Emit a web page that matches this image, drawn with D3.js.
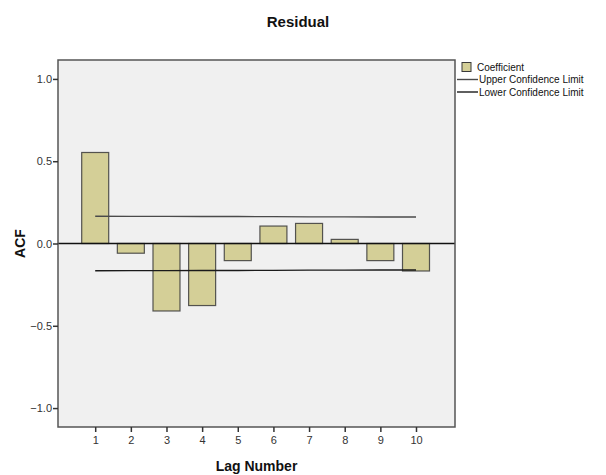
<!DOCTYPE html>
<html>
<head>
<meta charset="utf-8">
<script src="https://cdn.jsdelivr.net/npm/d3@7/dist/d3.min.js"></script>
<style>
  body { margin: 0; background: #fff; }
  svg { display: block; font-family: "Liberation Sans", Arial, sans-serif; }
</style>
</head>
<body>
<svg id="chart" width="606" height="475"></svg>
<script>
const lags = [1, 2, 3, 4, 5, 6, 7, 8, 9, 10];
const coefficients = [0.553, -0.059, -0.41, -0.377, -0.104, 0.106, 0.122, 0.025, -0.104, -0.167];
const upperLimit = [0.166, 0.165, 0.165, 0.164, 0.164, 0.163, 0.162, 0.162, 0.161, 0.161];
const lowerLimit = [-0.166, -0.165, -0.165, -0.164, -0.164, -0.163, -0.162, -0.162, -0.161, -0.161];
const yTicks = [1.0, 0.5, 0.0, -0.5, -1.0];
const legendItems = ['Coefficient', 'Upper Confidence Limit', 'Lower Confidence Limit'];

const plotLeft = 58;
const plotRight = 455;
const plotTop = 60;
const plotBottom = 427;
const barWidth = 27;
const tickLength = 5;
const barFill = '#d4cf97';

const svg = d3.select('#chart');

const x = d3.scaleLinear()
.domain([1, 10])
.range([95.2, 416]);

const y = d3.scaleLinear()
.domain([-1.115, 1.115])
.range([plotBottom, plotTop]);

// plot background
svg.append('rect')
.attr('x', plotLeft)
.attr('y', plotTop)
.attr('width', plotRight - plotLeft)
.attr('height', plotBottom - plotTop)
.attr('fill', '#f0f0f0');

// bars
svg.append('g')
.selectAll('rect')
.data(lags)
.join('rect')
.attr('x', (d) => x(d) - barWidth / 2)
.attr('y', (d, i) => y(Math.max(0, coefficients[i])))
.attr('width', barWidth)
.attr('height', (d, i) => Math.abs(y(coefficients[i]) - y(0)))
.attr('fill', barFill)
.attr('stroke', '#3a3a3a')
.attr('stroke-opacity', 0.85)
.attr('stroke-width', 1.2);

// confidence limits
const limitLine = d3.line()
.x((d) => x(d[0]))
.y((d) => y(d[1]));

[upperLimit, lowerLimit].forEach((limit, li) => {
    svg.append('path')
    .datum(lags.map((l, i) => [l, limit[i]]))
    .attr('d', limitLine)
    .attr('fill', 'none')
    .attr('stroke', li === 0 ? '#4a4a4a' : '#1a1a1a')
    .attr('stroke-width', 1.4);
});

// zero reference line
svg.append('line')
.attr('x1', plotLeft)
.attr('x2', plotRight)
.attr('y1', y(0))
.attr('y2', y(0))
.attr('stroke', '#111')
.attr('stroke-width', 1.3);

// plot frame
svg.append('rect')
.attr('x', plotLeft)
.attr('y', plotTop)
.attr('width', plotRight - plotLeft)
.attr('height', plotBottom - plotTop)
.attr('fill', 'none')
.attr('stroke', '#555')
.attr('stroke-width', 1.5);

// y axis
const yAxis = svg.append('g')
.attr('transform', `translate(${plotLeft},0)`)
.call(d3.axisLeft(y).tickValues(yTicks).tickFormat(d3.format('.1f')).tickSize(tickLength).tickSizeOuter(0));
yAxis.select('.domain').remove();
yAxis.selectAll('.tick line').attr('stroke', '#333').attr('stroke-width', 1.5);
yAxis.selectAll('.tick text')
.attr('x', -tickLength - 1)
.attr('font-family', '"Liberation Sans", Arial, sans-serif')
.attr('font-size', 11)
.attr('fill', '#333');

// x axis
const xAxis = svg.append('g')
.attr('transform', `translate(0,${plotBottom})`)
.call(d3.axisBottom(x).tickValues(lags).tickFormat(d3.format('d')).tickSize(tickLength).tickSizeOuter(0));
xAxis.select('.domain').remove();
xAxis.selectAll('.tick line').attr('stroke', '#333').attr('stroke-width', 1.5);
xAxis.selectAll('.tick text')
.attr('y', tickLength + 4)
.attr('font-family', '"Liberation Sans", Arial, sans-serif')
.attr('font-size', 11)
.attr('fill', '#333');

// titles
svg.append('text')
.attr('x', 298)
.attr('y', 27)
.attr('text-anchor', 'middle')
.attr('font-weight', 'bold')
.attr('font-size', 15)
.attr('fill', '#111')
.text('Residual');

svg.append('text')
.attr('x', (plotLeft + plotRight) / 2)
.attr('y', 471)
.attr('text-anchor', 'middle')
.attr('font-weight', 'bold')
.attr('font-size', 14)
.attr('fill', '#111')
.text('Lag Number');

svg.append('text')
.attr('transform', `translate(25,${y(0)}) rotate(-90)`)
.attr('text-anchor', 'middle')
.attr('font-weight', 'bold')
.attr('font-size', 14)
.attr('fill', '#111')
.text('ACF');

// legend
const legend = svg.append('g')
.attr('transform', 'translate(457,67)')
.selectAll('g')
.data(legendItems)
.join('g')
.attr('transform', (d, i) => `translate(0,${i * 12.5})`);

legend.each(function(d, i) {
    const item = d3.select(this);
    if (i === 0) {
        item.append('rect')
        .attr('x', 5)
        .attr('y', -4.5)
        .attr('width', 9)
        .attr('height', 9)
        .attr('fill', barFill)
        .attr('stroke', '#3a3a3a')
        .attr('stroke-width', 1);
    } else {
        item.append('line')
        .attr('x1', 0)
        .attr('x2', 21)
        .attr('y1', 0)
        .attr('y2', 0)
        .attr('stroke', i === 1 ? '#4a4a4a' : '#1a1a1a')
        .attr('stroke-width', 1.4);
    }
    item.append('text')
    .attr('x', i === 0 ? 20 : 22)
    .attr('y', 0)
    .attr('dy', '0.35em')
    .attr('font-size', 10)
    .attr('fill', '#111')
    .text(d);
});
</script>
</body>
</html>
